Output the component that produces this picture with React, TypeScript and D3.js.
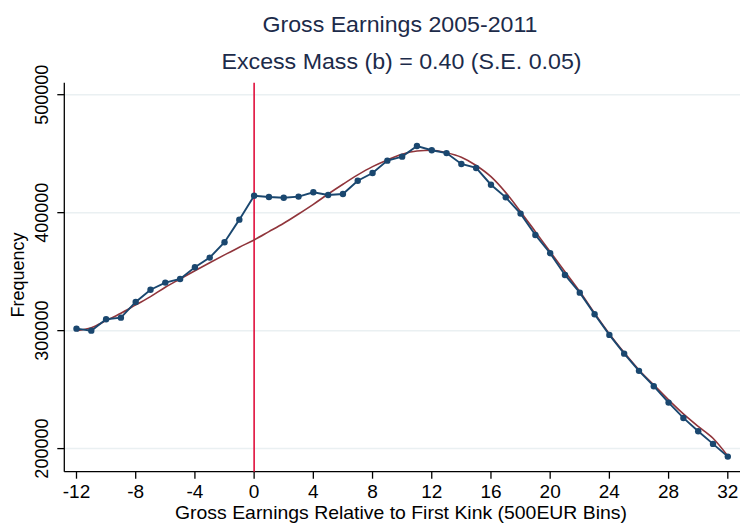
import * as d3 from "d3";

// bins relative to the first kink (500 EUR each)
const bins = [
  -12, -11, -10, -9, -8, -7, -6, -5, -4, -3, -2, -1, 0, 1, 2, 3, 4, 5, 6, 7, 8,
  9, 10, 11, 12, 13, 14, 15, 16, 17, 18, 19, 20, 21, 22, 23, 24, 25, 26, 27, 28,
  29, 30, 31, 32,
];

// observed frequency per bin
const observed = [
  301700, 300000, 309700, 311000, 324300, 334700, 340700, 343800, 353700,
  361900, 374900, 394100, 414300, 413300, 412700, 413600, 417300, 415000,
  415800, 427100, 433600, 444100, 447500, 456500, 452900, 450500, 441300,
  437900, 423700, 413000, 399200, 381100, 365600, 347200, 332200, 313900,
  296400, 280500, 265900, 252900, 239000, 226000, 214700, 204000, 193200,
];

// counterfactual polynomial fit
const fitted = [
  300000, 302500, 308500, 314700, 321800, 328800, 336800, 343800, 350800,
  357600, 364200, 370700, 376900, 383900, 391000, 398900, 407100, 415800,
  424100, 432000, 439000, 444700, 449500, 452300, 452900, 450800, 447000,
  440000, 430500, 417000, 400800, 383900, 366900, 350000, 333100, 314700,
  297200, 281400, 266700, 254000, 241300, 229400, 218800, 208800, 193800,
];

const xTicks = [-12, -8, -4, 0, 4, 8, 12, 16, 20, 24, 28, 32];
const yTicks = [200000, 300000, 400000, 500000];
const kink = 0;

const title = "Gross Earnings 2005-2011";
const subtitle = "Excess Mass (b) = 0.40 (S.E. 0.05)";
const xTitle = "Gross Earnings Relative to First Kink (500EUR Bins)";
const yTitle = "Frequency";

export default function App() {
  const width = 740;
  const height = 525;
  const axisLeft = 64.3;
  const axisBottom = 471.7;
  const plotTop = 82.7;
  const font = "'Liberation Sans', Arial, sans-serif";

  const x = d3.scaleLinear().domain([-12, 32]).range([76.5, 727.8]);
  const y = d3.scaleLinear().domain([200000, 500000]).range([448.6, 94.7]);

  const pts = bins.map((b, i) => [b, observed[i]] as [number, number]);
  const fit = bins.map((b, i) => [b, fitted[i]] as [number, number]);

  const line = d3
    .line<[number, number]>()
    .x((d) => x(d[0]))
    .y((d) => y(d[1]));

  const smooth = d3
    .line<[number, number]>()
    .curve(d3.curveMonotoneX)
    .x((d) => x(d[0]))
    .y((d) => y(d[1]));

  return (
    <svg
      width={width}
      height={height}
      style={{ position: "absolute", left: 0, top: 0, background: "#fff" }}
      fontFamily={font}
    >
      <rect width={width} height={height} fill="#fff" />

      {/* gridlines */}
      {yTicks.map((t) => (
        <line
          key={"g" + t}
          x1={axisLeft}
          x2={width}
          y1={y(t)}
          y2={y(t)}
          stroke="#eaf0f2"
          strokeWidth={1.5}
        />
      ))}

      {/* axes */}
      <line x1={axisLeft} x2={axisLeft} y1={plotTop} y2={axisBottom} stroke="#000" strokeWidth={1.3} />
      <line x1={axisLeft} x2={width} y1={axisBottom} y2={axisBottom} stroke="#000" strokeWidth={1.3} />

      {yTicks.map((t) => (
        <g key={"y" + t}>
          <line x1={axisLeft - 7} x2={axisLeft} y1={y(t)} y2={y(t)} stroke="#000" strokeWidth={1.3} />
          <text
            transform={`translate(48,${y(t)}) rotate(-90)`}
            textAnchor="middle"
            fontSize={18}
            fill="#000"
          >
            {t}
          </text>
        </g>
      ))}

      {xTicks.map((t) => (
        <g key={"x" + t}>
          <line x1={x(t)} x2={x(t)} y1={axisBottom} y2={axisBottom + 7} stroke="#000" strokeWidth={1.3} />
          <text x={x(t)} y={498} textAnchor="middle" fontSize={19} fill="#000">
            {t}
          </text>
        </g>
      ))}

      {/* kink */}
      <line
        x1={x(kink)}
        x2={x(kink)}
        y1={plotTop}
        y2={axisBottom}
        stroke="#e0103c"
        strokeWidth={1.6}
      />

      {/* fitted counterfactual */}
      <path d={smooth(fit) || ""} fill="none" stroke="#90353b" strokeWidth={1.6} />

      {/* observed */}
      <path d={line(pts) || ""} fill="none" stroke="#1a476f" strokeWidth={1.9} />
      {pts.map((d) => (
        <circle key={d[0]} cx={x(d[0])} cy={y(d[1])} r={3.2} fill="#1a476f" />
      ))}

      {/* titles */}
      <text x={400} y={32} textAnchor="middle" fontSize={22} fill="#1c2b4a" textLength={275} lengthAdjust="spacingAndGlyphs">
        {title}
      </text>
      <text x={401.5} y={69} textAnchor="middle" fontSize={22} fill="#1c2b4a" textLength={360} lengthAdjust="spacingAndGlyphs">
        {subtitle}
      </text>
      <text x={401} y={519} textAnchor="middle" fontSize={19} fill="#000" textLength={452} lengthAdjust="spacingAndGlyphs">
        {xTitle}
      </text>
      <text
        transform="translate(24,275) rotate(-90)"
        textAnchor="middle"
        fontSize={18}
        fill="#000"
      >
        {yTitle}
      </text>
    </svg>
  );
}
